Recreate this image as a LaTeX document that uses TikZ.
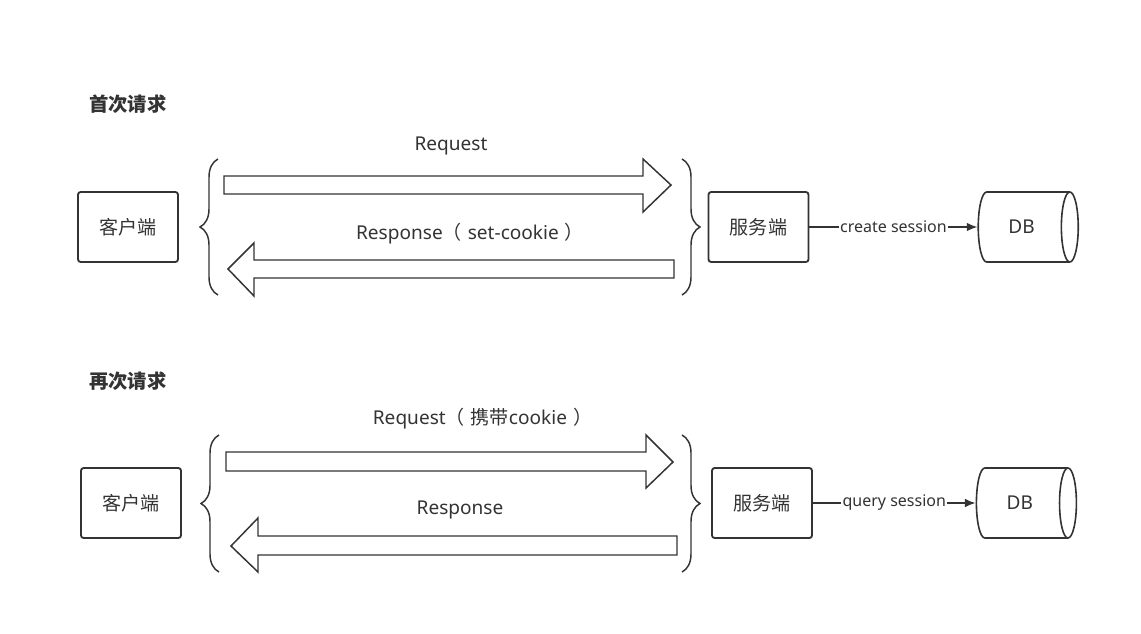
\documentclass[tikz,border=0pt]{standalone}
\usepackage{fontspec}
\setmainfont{Noto Sans}
\newfontfamily\cjk{Noto Sans CJK SC}
\usetikzlibrary{positioning}
\usetikzlibrary{shapes.geometric}
\usetikzlibrary{arrows.meta}
\usetikzlibrary{decorations.pathreplacing}
\definecolor{ink}{HTML}{333333}
\tikzset{%
  box/.style = {rectangle,draw=ink,line width=1.4pt,rounded corners=2pt,
        minimum width=75pt,minimum height=52.5pt,
        font=\cjk\fontsize{14.3}{17}\selectfont,text=ink},
  db/.style = {cylinder,draw=ink,line width=1.2pt,shape aspect=0.75,
        minimum width=52.5pt,minimum height=75pt,
        font=\fontsize{14.3}{17}\selectfont,text=ink},
  flow/.style = {draw=ink,line width=1.1pt,line join=miter},
  brc/.style = {draw=ink,line width=1.1pt,decorate,
        decoration={brace,amplitude=13.5pt}},
  lbl/.style = {font=\fontsize{14.3}{17}\selectfont,text=ink},
  edgelbl/.style = {font=\fontsize{12}{14}\selectfont,text=ink,fill=white,
        inner sep=1pt},
  ttl/.style = {anchor=west,inner sep=0pt,
        font=\cjk\bfseries\fontsize{14.5}{17}\selectfont,text=ink},
  link/.style = {draw=ink,line width=1.2pt,-{Latex[length=8pt,width=6.5pt]}}
}
\newcommand\lp{{\cjk（}\kern4.5pt}
\newcommand\rp{\kern4.5pt{\cjk）}}
\begin{document}
\begin{tikzpicture}[x=0.75pt,y=-0.75pt]
  \useasboundingbox (0,0) rectangle (1141,633);

  % first request
  \node[ttl] (t1) at (89,104) {首次请求};
  \node[box] (cli1) at (128,227) {客户端};
  \node[box] (srv1) at (758.5,227) {服务端};
  \node[db] (db1) [right=126pt of srv1] {DB};
  \draw[link] (srv1) -- node[edgelbl] {create session} (db1);

  \draw[brc] (218,295) -- (218,159);
  \draw[brc] (682,159) -- (682,295);
  \draw[flow] (224,176) -- (643,176) -- (643,159) -- (671,185)
        -- (643,212) -- (643,194) -- (224,194) -- cycle;
  \draw[flow] (674,260) -- (254,260) -- (254,243) -- (228,269)
        -- (254,296) -- (254,278) -- (674,278) -- cycle;
  \node[lbl] (req1) at (451,146) {Request};
  \node[lbl] (rsp1) at (470,234) {Response\lp set-cookie\rp};

  % second request
  \node[ttl] (t2) at (89,381) {再次请求};
  \node[box] (cli2) at (131,503) {客户端};
  \node[box] (srv2) at (762,503) {服务端};
  \node[db] (db2) [right=122pt of srv2] {DB};
  \draw[link] (srv2) -- node[edgelbl] {query session} (db2);

  \draw[brc] (219,572) -- (219,435);
  \draw[brc] (682,435) -- (682,572);
  \draw[flow] (226,452) -- (646,452) -- (646,435) -- (673,462)
        -- (646,488) -- (646,471) -- (226,471) -- cycle;
  \draw[flow] (677,536) -- (258,536) -- (258,518) -- (231,546)
        -- (258,572) -- (258,555) -- (677,555) -- cycle;
  \node[lbl] (req2) at (482.5,419) {Request\lp{\cjk 携带}cookie\rp};
  \node[lbl] (rsp2) at (460,510) {Response};
\end{tikzpicture}
\end{document}
